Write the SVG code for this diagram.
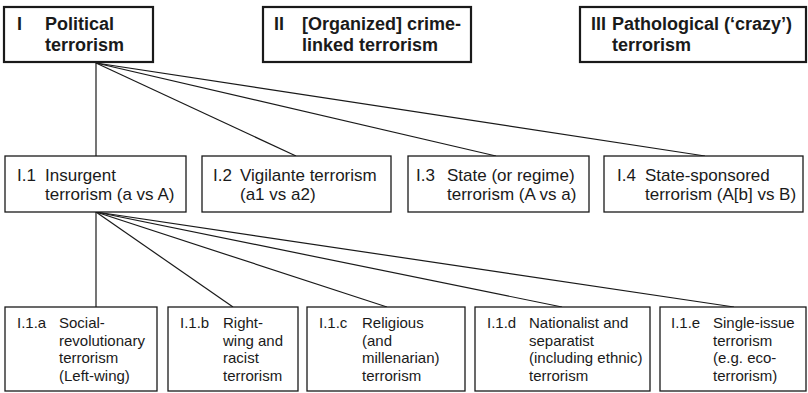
<svg xmlns="http://www.w3.org/2000/svg" width="808" height="393" viewBox="0 0 808 393">
<style>
text{font-family:"Liberation Sans",Arial,sans-serif;fill:#1a1a1a}
.t{font-size:18px;font-weight:bold}
.m{font-size:17px}
.b{font-size:15px}
.bx{fill:#fff;stroke:#1a1a1a;stroke-width:1.3}
.bxt{fill:#fff;stroke:#1a1a1a;stroke-width:2.2}
.ln{stroke:#1a1a1a;stroke-width:1.2;fill:none}
</style>
<rect width="808" height="393" fill="#fff"/>
<g id="connectors">
<line class="ln" x1="96" y1="63" x2="96" y2="156"/>
<line class="ln" x1="96" y1="63" x2="296" y2="156"/>
<line class="ln" x1="96" y1="63" x2="496" y2="156"/>
<line class="ln" x1="96" y1="63" x2="705" y2="156"/>
<line class="ln" x1="96" y1="212" x2="96" y2="307"/>
<line class="ln" x1="96" y1="212" x2="233" y2="307"/>
<line class="ln" x1="96" y1="212" x2="387" y2="307"/>
<line class="ln" x1="96" y1="212" x2="562" y2="307"/>
<line class="ln" x1="96" y1="212" x2="734" y2="307"/>
</g>
<g id="I">
<rect class="bxt" x="4" y="7" width="149" height="55"/>
<text class="t" x="17" y="30">I</text>
<text class="t" x="45" y="30">Political</text>
<text class="t" x="45" y="51">terrorism</text>
</g>
<g id="II">
<rect class="bxt" x="263" y="7" width="208" height="55"/>
<text class="t" x="274" y="30">II</text>
<text class="t" x="302" y="30">[Organized] crime-</text>
<text class="t" x="302" y="51">linked terrorism</text>
</g>
<g id="III">
<rect class="bxt" x="580" y="7" width="226" height="55"/>
<text class="t" x="591" y="30">III</text>
<text class="t" x="612" y="30">Pathological (‘crazy’)</text>
<text class="t" x="612" y="51">terrorism</text>
</g>
<g id="I1">
<rect class="bx" x="5" y="156" width="181" height="56"/>
<text class="m" x="17" y="181">I.1</text>
<text class="m" x="45" y="181">Insurgent</text>
<text class="m" x="45" y="200">terrorism (a vs A)</text>
</g>
<g id="I2">
<rect class="bx" x="202" y="156" width="189" height="56"/>
<text class="m" x="213" y="181">I.2</text>
<text class="m" x="240" y="181">Vigilante terrorism</text>
<text class="m" x="240" y="200">(a1 vs a2)</text>
</g>
<g id="I3">
<rect class="bx" x="408" y="156" width="181" height="56"/>
<text class="m" x="416" y="181">I.3</text>
<text class="m" x="447" y="181">State (or regime)</text>
<text class="m" x="447" y="200">terrorism (A vs a)</text>
</g>
<g id="I4">
<rect class="bx" x="604" y="156" width="199" height="56"/>
<text class="m" x="617" y="181">I.4</text>
<text class="m" x="645" y="181">State-sponsored</text>
<text class="m" x="645" y="200">terrorism (A[b] vs B)</text>
</g>
<g id="I1a">
<rect class="bx" x="5" y="307" width="152" height="84"/>
<text class="b" x="17" y="328">I.1.a</text>
<text class="b" x="59" y="328">Social-</text>
<text class="b" x="59" y="345.5">revolutionary</text>
<text class="b" x="59" y="363">terrorism</text>
<text class="b" x="59" y="380.5">(Left-wing)</text>
</g>
<g id="I1b">
<rect class="bx" x="168" y="307" width="130" height="84"/>
<text class="b" x="180" y="328">I.1.b</text>
<text class="b" x="223" y="328">Right-</text>
<text class="b" x="223" y="345.5">wing and</text>
<text class="b" x="223" y="363">racist</text>
<text class="b" x="223" y="380.5">terrorism</text>
</g>
<g id="I1c">
<rect class="bx" x="307" y="307" width="158" height="84"/>
<text class="b" x="319" y="328">I.1.c</text>
<text class="b" x="362" y="328">Religious</text>
<text class="b" x="362" y="345.5">(and</text>
<text class="b" x="362" y="363">millenarian)</text>
<text class="b" x="362" y="380.5">terrorism</text>
</g>
<g id="I1d">
<rect class="bx" x="475" y="307" width="175" height="84"/>
<text class="b" x="487" y="328">I.1.d</text>
<text class="b" x="529" y="328">Nationalist and</text>
<text class="b" x="529" y="345.5">separatist</text>
<text class="b" x="529" y="363">(including ethnic)</text>
<text class="b" x="529" y="380.5">terrorism</text>
</g>
<g id="I1e">
<rect class="bx" x="660" y="307" width="146" height="84"/>
<text class="b" x="671" y="328">I.1.e</text>
<text class="b" x="713" y="328">Single-issue</text>
<text class="b" x="713" y="345.5">terrorism</text>
<text class="b" x="713" y="363">(e.g. eco-</text>
<text class="b" x="713" y="380.5">terrorism)</text>
</g>
</svg>
